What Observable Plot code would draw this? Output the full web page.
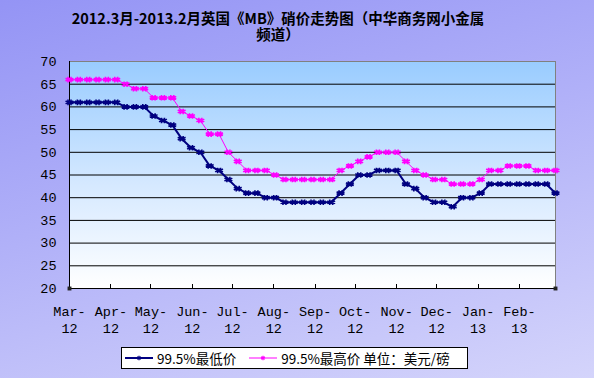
<!DOCTYPE html>
<html>
<head>
<meta charset="utf-8">
<script src="https://cdn.jsdelivr.net/npm/d3@7"></script>
<script src="https://cdn.jsdelivr.net/npm/@observablehq/plot@0.6"></script>
<style>
  html, body { margin: 0; padding: 0; }
  #chart {
    position: relative; width: 594px; height: 378px; overflow: hidden;
    background: linear-gradient(165deg, #9494f5 0%, #b0b0f8 45%, #d4d4fb 100%);
  }
  #title {
    position: absolute; left: 0; top: 10px; width: 556px; text-align: center;
    font-family: "Noto Sans CJK SC", sans-serif; font-weight: bold; font-size: 14.5px;
    line-height: 16px; color: #000;
  }
  #plot { position: absolute; left: 0; top: 0; }
  #legend {
    position: absolute; left: 121px; top: 347px; width: 347px; height: 22px;
    background: #fff; border: 1px solid #000; box-sizing: border-box;
    font-family: "Noto Sans CJK SC", sans-serif; font-size: 13.5px; color: #000;
    display: flex; align-items: center; white-space: nowrap;
  }
  #legend svg { display: block; }
</style>
</head>
<body>
<div id="chart">
  <div id="title">2012.3月-2013.2月英国《MB》硝价走势图（中华商务网小金属<br>频道）</div>
  <div id="plot"></div>
  <div id="legend"></div>
</div>
<script>
// weekly observation dates (Mar 2012 – Feb 2013)
const start = new Date(Date.UTC(2012, 2, 1));
const dates = d3.range(53).map(i => d3.utcDay.offset(start, 7 * i));

// 99.5% lowest price (USD/lb)
const low = [61,61,61,61,61,61,60,60,60,58,57,56,53,51,50,47,46,44,42,41,41,40,40,
             39,39,39,39,39,39,41,43,45,45,46,46,46,43,42,40,39,39,38,40,40,41,
             43,43,43,43,43,43,43,41];
// 99.5% highest price (USD/lb)
const high = [66,66,66,66,66,66,65,64,64,62,62,62,59,58,57,54,54,50,48,46,46,46,45,
              44,44,44,44,44,44,46,47,48,49,50,50,50,48,46,45,44,44,43,43,43,44,
              46,46,47,47,47,46,46,46];

const monthLabels = ["Mar-12","Apr-12","May-12","Jun-12","Jul-12","Aug-12",
                     "Sep-12","Oct-12","Nov-12","Dec-12","Jan-13","Feb-13"];
const monthDates = d3.utcMonth.range(new Date(Date.UTC(2012,2,1)), new Date(Date.UTC(2013,2,1)));
const yTicks = [20,25,30,35,40,45,50,55,60,65,70];

const seriesNames = ["99.5%最低价", "99.5%最高价"];
const colors = ["#000080", "#ff00ff"];

const rows = [];
dates.forEach((d, i) => {
  rows.push({date: d, value: low[i], s: seriesNames[0]});
  rows.push({date: d, value: high[i], s: seriesNames[1]});
});
const lowRows = rows.filter(r => r.s === seriesNames[0]);
const highRows = rows.filter(r => r.s === seriesNames[1]);

const defs = () => {
  const svg = d3.create("svg:defs");
  const g = svg.append("linearGradient").attr("id", "plotGrad")
    .attr("x1", 0).attr("y1", 0).attr("x2", 0).attr("y2", 1);
  g.append("stop").attr("offset", "0%").attr("stop-color", "#99ccff");
  g.append("stop").attr("offset", "55%").attr("stop-color", "#d6e9ff");
  g.append("stop").attr("offset", "100%").attr("stop-color", "#ffffff");
  return svg.node();
};

const xTicksMark = (index, scales) => {
  const g = d3.create("svg:g").attr("stroke", "#000").attr("stroke-width", 1);
  const y0 = scales.y(yTicks[0]);
  for (const m of monthDates) {
    const x = Math.round(scales.x(m)) + 0.5;
    g.append("line").attr("x1", x).attr("x2", x).attr("y1", y0).attr("y2", y0 - 4);
  }
  return g.node();
};

const plot = Plot.plot({
  width: 594,
  height: 345,
  marginTop: 61,
  marginBottom: 57,
  marginLeft: 69,
  marginRight: 39,
  style: {background: "transparent", fontFamily: "'Liberation Mono', monospace", fontSize: "13.5px", color: "#000"},
  x: {type: "utc", domain: [dates[0], dates[dates.length - 1]], label: null, axis: null},
  y: {domain: [20, 70], label: null},
  marks: [
    defs,
    Plot.frame({fill: "url(#plotGrad)", stroke: "#808080"}),
    Plot.gridY(yTicks.slice(1, -1), {stroke: "#000", strokeOpacity: 1}),
    Plot.ruleY([yTicks[0]], {stroke: "#000"}),
    Plot.ruleX([dates[0]], {stroke: "#000"}),
    xTicksMark,
    Plot.axisY(yTicks, {tickSize: 0, tickPadding: 13, tickFormat: d => d, label: null}),
    Plot.text(monthDates, {
      x: d => d, text: (d, i) => monthLabels[i].replace("-", "-\n"),
      frameAnchor: "bottom", lineAnchor: "top", dy: 16, lineHeight: 1.25,
      fontFamily: "'Liberation Mono', monospace", fontSize: 13.5
    }),
    Plot.line(highRows, {x: "date", y: "value", stroke: colors[1], strokeWidth: 1}),
    Plot.dot(highRows, {x: "date", y: "value", symbol: "asterisk", r: 2.6, stroke: colors[1], strokeWidth: 1.6, dx: -1.5}),
    Plot.dot(highRows, {x: "date", y: "value", symbol: "asterisk", r: 2.6, stroke: colors[1], strokeWidth: 1.6, dx: 1.5}),
    Plot.line(lowRows, {x: "date", y: "value", stroke: colors[0], strokeWidth: 2}),
    Plot.dot(lowRows, {x: "date", y: "value", symbol: "asterisk", r: 2.6, stroke: colors[0], strokeWidth: 1.6, dx: -1.5}),
    Plot.dot(lowRows, {x: "date", y: "value", symbol: "asterisk", r: 2.6, stroke: colors[0], strokeWidth: 1.6, dx: 1.5}),
    Plot.dot([dates[0], dates[dates.length - 1]], {x: d => d, y: () => yTicks[0], symbol: "square", r: 2.2, fill: "#222", stroke: "none"})
  ]
});
document.getElementById("plot").appendChild(plot);

// legend
const legend = d3.select("#legend");
const sample = (color, w) => {
  const s = legend.append("svg").attr("width", 30).attr("height", 12).style("margin", "0 3px 0 2px");
  s.append("line").attr("x1", 1).attr("x2", 29).attr("y1", 6).attr("y2", 6).attr("stroke", color).attr("stroke-width", w);
  s.append("path").attr("d", d3.symbol(d3.symbolAsterisk, 14)()).attr("transform", "translate(15,6)")
    .attr("stroke", color).attr("stroke-width", 1.2).attr("fill", "none");
};
sample(colors[0], 2);
legend.append("span").text(seriesNames[0]).style("margin-right", "10px");
sample(colors[1], 1);
legend.append("span").text(seriesNames[1] + " 单位：美元/磅");
</script>
</body>
</html>
